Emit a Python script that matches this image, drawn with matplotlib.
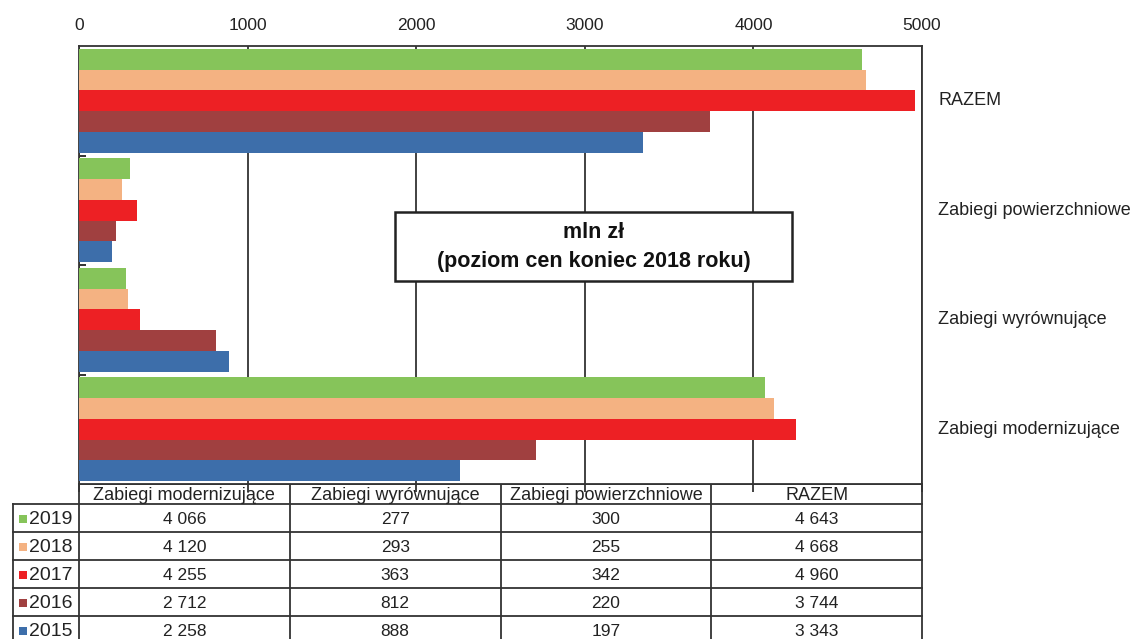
import matplotlib
matplotlib.use("Agg")
import matplotlib.pyplot as plt
from matplotlib.patches import Rectangle
from matplotlib.lines import Line2D

plt.rcParams['font.family'] = ['Liberation Sans', 'DejaVu Sans']

# Categories, bottom to top on the chart (left to right in the table)
categories = ["Zabiegi modernizujące", "Zabiegi wyrównujące",
              "Zabiegi powierzchniowe", "RAZEM"]
years = ["2019", "2018", "2017", "2016", "2015"]
colors = ["#86c45a", "#f4b282", "#ed2024", "#a04040", "#3d6eaa"]

# mln zł, one list per year, in category order
v2019 = [4066, 277, 300, 4643]
v2018 = [4120, 293, 255, 4668]
v2017 = [4255, 363, 342, 4960]
v2016 = [2712, 812, 220, 3744]
v2015 = [2258, 888, 197, 3343]
series = [v2019, v2018, v2017, v2016, v2015]

x_ticks = [0, 1000, 2000, 3000, 4000, 5000]

W, H = 1135, 639
fig = plt.figure(figsize=(W / 100, H / 100), dpi=100)

# pixel frame of the plotting area
L, R, T, B = 79, 922, 46, 484
ax = fig.add_axes([L / W, 1 - B / H, (R - L) / W, (B - T) / H])

bar_h = 0.19
for k, (vals, col) in enumerate(zip(series, colors)):
    ys = [c + (2 - k) * bar_h for c in range(len(categories))]
    ax.barh(ys, vals, height=bar_h, color=col, zorder=3, linewidth=0)

ax.set_xlim(0, 5000)
ax.set_ylim(-0.5, len(categories) - 0.5)
ax.set_xticks(x_ticks)
ax.xaxis.grid(True, color="#333333", linewidth=1.3, zorder=0)
ax.set_axisbelow(True)
ax.tick_params(axis="x", top=False, labeltop=True, bottom=True,
               labelbottom=False, direction="out", length=6, width=1.3,
               color="#333333", labelsize=12.5, labelcolor="#222222", pad=3)
ax.set_yticks([])
ax.set_yticks([c + 0.5 for c in range(len(categories) - 1)], minor=True)
ax.tick_params(axis="y", which="minor", left=True, direction="in", length=5,
               width=1.3, color="#222222", labelleft=False)
for s in ax.spines.values():
    s.set_color("#333333")
    s.set_linewidth(1.3)

# category names to the right of the plot
for c, name in enumerate(categories):
    ax.text(1 + 16 / (R - L), c, name, transform=ax.get_yaxis_transform(),
            ha="left", va="center", fontsize=13, color="#222222")

# unit box, placed in pixel coordinates of the figure
over = fig.add_axes([0, 0, 1, 1], zorder=5)
over.set_xlim(0, W)
over.set_ylim(H, 0)
over.axis("off")
over.add_patch(Rectangle((395, 212), 397, 69, fc="white", ec="#222222",
                         lw=1.8))
over.text(593.5, 233, "mln zł", ha="center", va="center", fontsize=15.5,
          fontweight="bold", color="#111111")
over.text(593.5, 261, "(poziom cen koniec 2018 roku)", ha="center",
          va="center", fontsize=15.5, fontweight="bold", color="#111111")

# data table under the plot, drawn in pixel coordinates
tab = fig.add_axes([0, 0, 1, 1], zorder=-1)
tab.set_xlim(0, W)
tab.set_ylim(H, 0)
tab.axis("off")

col_edges = [L + i * (R - L) / 4 for i in range(5)]
head_top, head_bot, row_h = B, 504, 28
lab_left = 13
lc = "#333333"
lw = 1.3

tab.add_line(Line2D([L, R], [head_top, head_top], color=lc, lw=lw))
for r in range(len(years) + 1):
    y = head_bot + r * row_h
    tab.add_line(Line2D([lab_left, R], [y, y], color=lc, lw=lw))
tab.add_line(Line2D([lab_left, lab_left], [head_bot, H + 5], color=lc, lw=lw))
for x in col_edges:
    tab.add_line(Line2D([x, x], [head_top, H + 5], color=lc, lw=lw))

for i, name in enumerate(categories):
    xc = (col_edges[i] + col_edges[i + 1]) / 2
    tab.text(xc, (head_top + head_bot) / 2 + 1, name, ha="center",
             va="center", fontsize=13, color="#222222")

for r, (yr, vals, col) in enumerate(zip(years, series, colors)):
    yc = head_bot + r * row_h + row_h / 2 + 1
    tab.add_patch(Rectangle((19, yc - 4.5), 8, 8, color=col, lw=0))
    tab.text(29, yc, yr, ha="left", va="center", fontsize=14,
             color="#222222")
    for i, v in enumerate(vals):
        xc = (col_edges[i] + col_edges[i + 1]) / 2
        tab.text(xc, yc, f"{v:,}".replace(",", " "), ha="center",
                 va="center", fontsize=12.5, color="#222222")

fig.savefig("out.png", dpi=100, facecolor="white")
